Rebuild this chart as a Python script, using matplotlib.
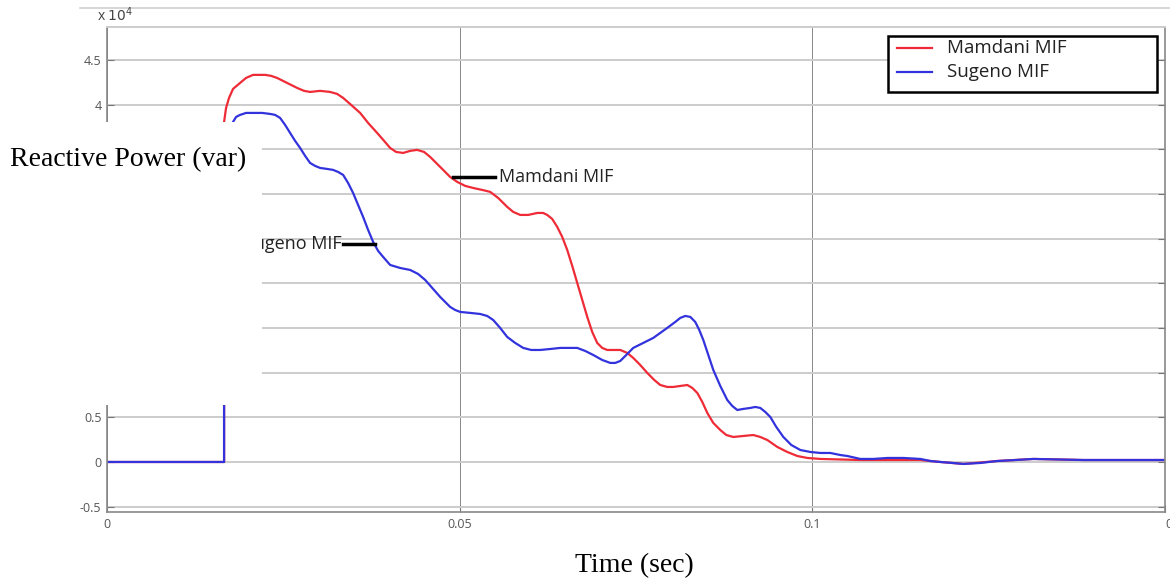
import numpy as np
import matplotlib
matplotlib.use('Agg')
import matplotlib.pyplot as plt
from matplotlib.patches import Rectangle
from matplotlib.lines import Line2D

# time (s) and reactive power (x 10^4 var)
t_mamdani = [0.0, 0.0166, 0.0166, 0.01688, 0.0173, 0.01787, 0.01887, 0.01972, 0.02071,
             0.02241, 0.02326, 0.02411, 0.02553, 0.02695, 0.02794, 0.02879, 0.03021,
             0.03163, 0.03262, 0.03348, 0.03461, 0.03589, 0.03702, 0.0383, 0.03929,
             0.04014, 0.04099, 0.04199, 0.04298, 0.04397, 0.04496, 0.04582, 0.04681,
             0.04766, 0.04865, 0.04965, 0.05078, 0.05191, 0.05319, 0.05433, 0.05546,
             0.05674, 0.05759, 0.05858, 0.05972, 0.06099, 0.06184, 0.06241, 0.06312,
             0.06383, 0.06454, 0.06525, 0.06596, 0.06667, 0.06738, 0.06809, 0.06879,
             0.0695, 0.07021, 0.07092, 0.07191, 0.07277, 0.07376, 0.07461, 0.0756,
             0.0766, 0.07759, 0.07844, 0.07943, 0.08028, 0.08128, 0.08227, 0.08298,
             0.08369, 0.0844, 0.08511, 0.08596, 0.08695, 0.0878, 0.08879, 0.09021,
             0.09163, 0.09262, 0.09362, 0.09504, 0.09645, 0.09787, 0.09929, 0.10113,
             0.10681, 0.11532, 0.11816, 0.12142, 0.12624, 0.13135, 0.13844, 0.15]
q_mamdani = [0.0, 0.0, 3.807, 3.964, 4.076, 4.177, 4.244, 4.300, 4.334,
             4.334, 4.323, 4.300, 4.244, 4.188, 4.155, 4.143, 4.155,
             4.143, 4.121, 4.076, 3.998, 3.908, 3.796, 3.684, 3.595,
             3.516, 3.471, 3.460, 3.483, 3.494, 3.471, 3.415, 3.337,
             3.270, 3.191, 3.136, 3.091, 3.068, 3.046, 3.024, 2.956,
             2.856, 2.800, 2.766, 2.766, 2.788, 2.788, 2.766, 2.721,
             2.632, 2.520, 2.374, 2.195, 2.004, 1.814, 1.624, 1.456,
             1.333, 1.277, 1.254, 1.254, 1.254, 1.221, 1.165, 1.086,
             0.997, 0.918, 0.862, 0.840, 0.840, 0.851, 0.862, 0.829,
             0.773, 0.672, 0.549, 0.437, 0.358, 0.302, 0.280, 0.291,
             0.302, 0.280, 0.246, 0.168, 0.112, 0.067, 0.045, 0.034,
             0.022, 0.022, 0.0, -0.022, 0.011, 0.034, 0.022, 0.022]

t_sugeno = [0.0, 0.0166, 0.0166, 0.01787, 0.0183, 0.01887, 0.01972, 0.02071, 0.02199,
            0.02312, 0.02383, 0.02454, 0.02525, 0.02596, 0.02667, 0.02738, 0.02809,
            0.02879, 0.0295, 0.03021, 0.03121, 0.03206, 0.03277, 0.03348, 0.03418,
            0.03489, 0.0356, 0.03631, 0.03702, 0.03773, 0.03844, 0.03915, 0.04014,
            0.04156, 0.04298, 0.04411, 0.04511, 0.04624, 0.04723, 0.04794, 0.04865,
            0.04936, 0.05007, 0.05149, 0.05291, 0.0539, 0.05475, 0.05574, 0.05674,
            0.05787, 0.05901, 0.06014, 0.06142, 0.06284, 0.06426, 0.06567, 0.06667,
            0.0678, 0.06894, 0.07021, 0.07135, 0.07206, 0.07277, 0.07362, 0.07461,
            0.07603, 0.07745, 0.07844, 0.07943, 0.08057, 0.08128, 0.08199, 0.0827,
            0.0834, 0.08397, 0.08454, 0.08525, 0.08596, 0.08695, 0.08794, 0.08865,
            0.08936, 0.09021, 0.09121, 0.09191, 0.09262, 0.09333, 0.09404, 0.09489,
            0.09589, 0.09702, 0.0983, 0.09972, 0.10113, 0.10255, 0.10397, 0.10496,
            0.10681, 0.10865, 0.11064, 0.11291, 0.11532, 0.11674, 0.11816, 0.11986,
            0.12142, 0.12383, 0.12624, 0.12879, 0.13135, 0.13844, 0.15]
q_sugeno = [0.0, 0.0, 3.606, 3.807, 3.863, 3.886, 3.908, 3.908, 3.908,
            3.897, 3.886, 3.852, 3.774, 3.684, 3.595, 3.516, 3.427,
            3.348, 3.315, 3.292, 3.281, 3.270, 3.247, 3.214, 3.124,
            3.012, 2.878, 2.744, 2.598, 2.464, 2.363, 2.296, 2.206,
            2.172, 2.150, 2.105, 2.038, 1.937, 1.848, 1.792, 1.736,
            1.702, 1.680, 1.669, 1.657, 1.635, 1.590, 1.501, 1.400,
            1.333, 1.277, 1.254, 1.254, 1.265, 1.277, 1.277, 1.277,
            1.243, 1.198, 1.142, 1.109, 1.109, 1.131, 1.198, 1.277,
            1.333, 1.389, 1.445, 1.501, 1.568, 1.613, 1.635, 1.624,
            1.568, 1.478, 1.366, 1.198, 1.030, 0.851, 0.694, 0.627,
            0.582, 0.594, 0.605, 0.616, 0.605, 0.560, 0.504, 0.392,
            0.280, 0.190, 0.134, 0.112, 0.101, 0.101, 0.078, 0.067,
            0.034, 0.034, 0.045, 0.045, 0.034, 0.011, 0.0, -0.011,
            -0.022, -0.011, 0.011, 0.022, 0.034, 0.022, 0.022]

yticks = [-0.5, 0, 0.5, 1, 1.5, 2, 2.5, 3, 3.5, 4, 4.5]
ytick_labels = ['-0.5', '0', '0.5', '', '', '', '', '', '', '4', '4.5']
xticks = [0, 0.05, 0.1, 0.15]
xtick_labels = ['0', '0.05', '0.1', '0.15']
series_names = ['Mamdani MIF', 'Sugeno MIF']

red = '#ee2b36'
blue = '#3333dd'

fig = plt.figure(figsize=(11.7, 5.83), dpi=100)
ax = fig.add_axes([107/1170, 1 - 512/583, (1165 - 107)/1170, (512 - 27)/583])

ax.plot(t_mamdani, q_mamdani, color=red, lw=1.6, solid_joinstyle='round')
ax.plot(t_sugeno, q_sugeno, color=blue, lw=1.6, solid_joinstyle='round')

ax.set_xlim(0, 0.15)
ax.set_ylim(-0.56, 4.87)
ax.set_xticks(xticks)
ax.set_xticklabels(xtick_labels)
ax.set_yticks(yticks)
ax.set_yticklabels(ytick_labels)
ax.tick_params(direction='in', length=5, width=0.8, color='#777777',
               labelcolor='#555555', labelsize=9, right=True, top=False, pad=4)
for lab in ax.get_xticklabels() + ax.get_yticklabels():
    lab.set_family('Open Sans')
ax.get_xticklabels()[-1].set_horizontalalignment('left')

ax.yaxis.grid(True, color='#cccccc', lw=1.4)
ax.xaxis.grid(True, color='#888888', lw=0.7)
ax.set_axisbelow(True)
for s in ['left', 'bottom', 'right']:
    ax.spines[s].set_color('#888888')
    ax.spines[s].set_linewidth(1.2)
ax.spines['top'].set_color('#cccccc')
ax.spines['top'].set_linewidth(1.4)

# labels pointing at the curves
ax.plot([0.0491, 0.0550], [3.195, 3.195], color='black', lw=2.5)
ax.text(0.0556, 3.195, series_names[0], fontsize=13, family='Open Sans',
        va='center', ha='left', color='#222222')
ax.plot([0.0335, 0.0380], [2.44, 2.44], color='black', lw=2.5)
ax.text(0.0332, 2.44, series_names[1], fontsize=13, family='Open Sans',
        va='center', ha='right', color='#222222')

# legend box
fw, fh = 1170, 583
fig.add_artist(Rectangle((888/fw, 1 - 92/fh), (1157 - 888)/fw, (92 - 36)/fh,
                         transform=fig.transFigure, facecolor='white',
                         edgecolor='black', lw=1.8, zorder=3))
for name, col, yy in zip(series_names, [red, blue], [48, 72]):
    fig.add_artist(Line2D([897/fw, 932/fw], [1 - yy/fh, 1 - yy/fh], color=col,
                          lw=1.6, zorder=4))
    fig.text(947/fw, 1 - yy/fh, name, fontsize=13.5, family='Open Sans',
             va='center', ha='left', color='#222222', zorder=4)

fig.text(97/fw, 1 - 16/fh, r'x $10^4$', fontsize=10, color='#444444',
         va='center', ha='left', family='Open Sans')

# frame line above the plot
fig.add_artist(Line2D([80/fw, 1.0], [1 - 8/fh, 1 - 8/fh], color='#d0d0d0', lw=1.2))

# white panel carrying the y label
fig.add_artist(Rectangle((0, 1 - 405/fh), 262/fw, (405 - 122)/fh,
                         transform=fig.transFigure, facecolor='white',
                         edgecolor='none', zorder=5))
fig.text(10/fw, 1 - 160/fh, 'Reactive Power (var)', fontsize=20,
         family='Liberation Serif', va='center', ha='left', zorder=6)
fig.text(634/fw, 1 - 566/fh, 'Time (sec)', fontsize=20,
         family='Liberation Serif', va='center', ha='center')

fig.savefig('out.png', dpi=100)
